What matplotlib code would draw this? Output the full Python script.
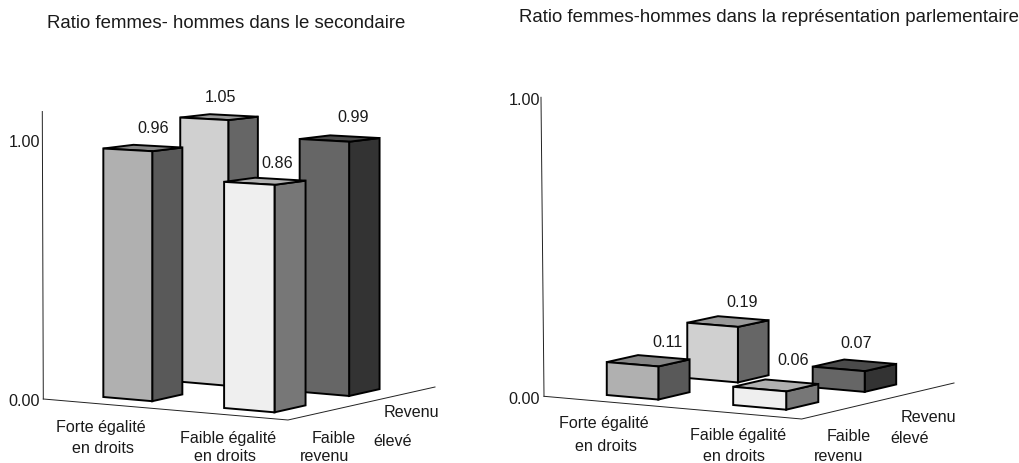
import matplotlib
matplotlib.use("Agg")
import matplotlib.pyplot as plt
from matplotlib.patches import Polygon

plt.rcParams['font.family'] = ['Liberation Sans', 'DejaVu Sans']

# ---------- data ----------
bars = ["Forte/élevé", "Faible/élevé", "Forte/faible", "Faible/faible"]
secondaire = [1.05, 0.99, 0.96, 0.86]
parlement = [0.19, 0.07, 0.11, 0.06]
front_colors = ["#d0d0d0", "#666666", "#b0b0b0", "#efefef"]
side_colors = ["#666666", "#333333", "#595959", "#777777"]
top_colors = ["#999999", "#4a4a4a", "#858585", "#b0b0b0"]
tick_values = [0.0, 1.0]
tick_labels = ["0.00", "1.00"]
title_left = "Ratio femmes- hommes dans le secondaire"
title_right = "Ratio femmes-hommes dans la représentation parlementaire"

# ---------- layout ----------
FS = 11.6
FS_TITLE = 13.4
LEFT_U = [0.177, 0.662, 0.151, 0.653]
LEFT_V = [0.637, 0.642, 0.157, 0.143]
RIGHT_U = [0.186, 0.652, 0.162, 0.639]
RIGHT_V = [0.626, 0.661, 0.138, 0.161]
SIZE_U, SIZE_V = 0.2, 0.205

fig = plt.figure(figsize=(10.2, 4.64), dpi=100)
ax = fig.add_axes([0, 0, 1, 1])
ax.set_xlim(0, 1020)
ax.set_ylim(464, 0)
ax.axis("off")


def make_projection(origin, front_right, back_right, unit):
    ex = (front_right[0] - origin[0], front_right[1] - origin[1])
    ey = (back_right[0] - front_right[0], back_right[1] - front_right[1])

    def project(u, v, z=0.0):
        h = unit * (1 + 0.03 * (u - 0.16) - 0.06 * (v - 0.15))
        x = origin[0] + ex[0] * u + ey[0] * v
        y = origin[1] + ex[1] * u + ey[1] * v - z * h
        return (x, y)
    return project


def draw_bar(p, u0, v0, z, front, side, top):
    s = 1 + 0.06 * (u0 - 0.16) - 0.04 * (v0 - 0.15)
    u1, v1 = u0 + SIZE_U * s, v0 + SIZE_V * s
    faces = [
        ([p(u1, v0, 0), p(u1, v1, 0), p(u1, v1, z), p(u1, v0, z)], side),
        ([p(u0, v0, z), p(u1, v0, z), p(u1, v1, z), p(u0, v1, z)], top),
        ([p(u0, v0, 0), p(u1, v0, 0), p(u1, v0, z), p(u0, v0, z)], front),
    ]
    for pts, color in faces:
        ax.add_patch(Polygon(pts, closed=True, facecolor=color, edgecolor="black",
                             linewidth=1.4, joinstyle="miter"))


def draw_panel(values, us, vs, origin, front_right, back_right, unit, axis_top, axis_lean, tick_x, tick_dy):
    p = make_projection(origin, front_right, back_right, unit)
    ax.plot([origin[0], front_right[0], back_right[0]],
            [origin[1], front_right[1], back_right[1]], color="#222222", lw=0.7)
    ax.plot([origin[0], origin[0] + axis_lean], [origin[1], origin[1] - axis_top * unit],
            color="#222222", lw=0.7)
    for tv, tl in zip(tick_values, tick_labels):
        ax.text(tick_x, origin[1] - tv * unit + tick_dy, tl, ha="right", va="center",
                fontsize=FS, color="#1a1a1a")
    for i, v in enumerate(values):
        draw_bar(p, us[i], vs[i], v, front_colors[i], side_colors[i], top_colors[i])


def put(items, size=FS):
    for x, y, s in items:
        ax.text(x, y, s, ha="center", va="center", fontsize=size, color="#1a1a1a")


draw_panel(secondaire, LEFT_U, LEFT_V, (43.3, 400), (288, 421), (435, 388), 259, 1.11, -1, 40, 2)
draw_panel(parlement, RIGHT_U, RIGHT_V, (544, 397.3), (801.7, 420), (954, 384), 299, 1.0, -3, 540, 2)

put([(226.5, 24, title_left), (769, 17, title_right)], FS_TITLE)
put([(220, 98, f"{secondaire[0]:.2f}"), (353, 118, f"{secondaire[1]:.2f}"),
     (153.5, 129, f"{secondaire[2]:.2f}"), (277, 164, f"{secondaire[3]:.2f}")])
put([(742, 303, f"{parlement[0]:.2f}"), (856, 344, f"{parlement[1]:.2f}"),
     (668, 343, f"{parlement[2]:.2f}"), (793, 361, f"{parlement[3]:.2f}")])
put([(101, 428, "Forte égalité"), (103, 449, "en droits"),
     (228, 439, "Faible égalité"), (225, 457, "en droits"),
     (334, 439, "Faible"), (325, 457, "revenu"),
     (411, 413, "Revenu"), (393, 442, "élevé")])
put([(603.5, 424, "Forte égalité"), (606, 447, "en droits"),
     (738, 436, "Faible égalité"), (734.5, 457, "en droits"),
     (848.5, 437, "Faible"), (839, 457, "revenu"),
     (928.5, 418, "Revenu"), (910, 439, "élevé")])

fig.savefig("out.png", dpi=100)
